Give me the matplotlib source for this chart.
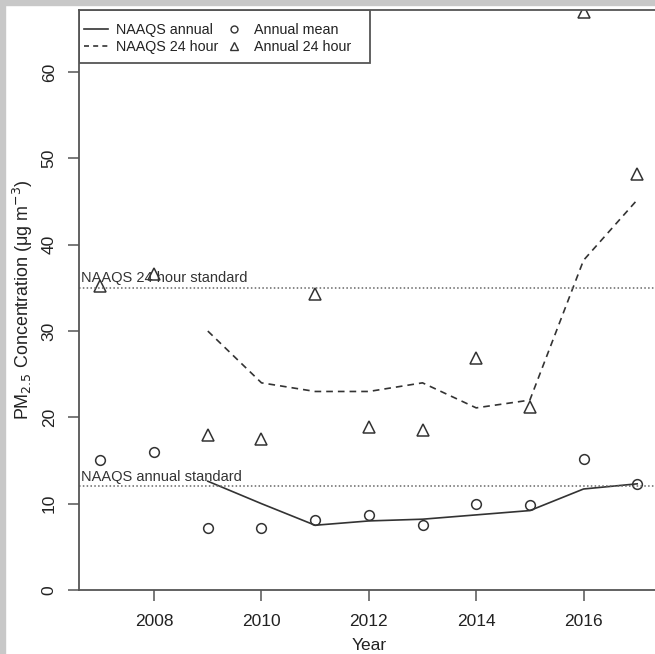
import matplotlib
matplotlib.use("Agg")
import matplotlib.pyplot as plt
from matplotlib.lines import Line2D
from matplotlib.patches import Rectangle

plt.rcParams['font.family'] = ['Liberation Sans', 'DejaVu Sans']

years = list(range(2007, 2018))
annual_mean = [15.1, 16.0, 7.2, 7.2, 8.1, 8.7, 7.5, 10.0, 9.9, 15.2, 12.3]
annual_24h = [35.2, 36.6, 18.0, 17.5, 34.3, 18.9, 18.5, 26.9, 21.2, 67.0, 48.2]

naaqs_years = list(range(2009, 2018))
naaqs_annual = [12.6, 10.0, 7.5, 8.0, 8.2, 8.7, 9.2, 11.7, 12.3]
naaqs_24h = [30.0, 24.0, 23.0, 23.0, 24.0, 21.1, 22.0, 38.2, 45.2]

std_annual = 12
std_24h = 35

ink = '#333333'
axc = '#555555'
txt = '#222222'

fig = plt.figure(figsize=(6.55, 6.54), dpi=100)
ax = fig.add_axes([0.1206, 0.0979, 0.885, 0.8868])

ax.plot(naaqs_years, naaqs_annual, color=ink, lw=1.2, ls='-')
ax.plot(naaqs_years, naaqs_24h, color=ink, lw=1.2, ls=(0, (4, 3)))
ax.plot(years, annual_mean, ls='none', marker='o', ms=7, mfc='none', mec=ink, mew=1.1,
        clip_on=False)
ax.plot(years, annual_24h, ls='none', marker='^', ms=8, mfc='none', mec=ink, mew=1.1)

ax.axhline(std_24h, color='#666666', lw=1.1, ls=(0, (1, 1.5)))
ax.axhline(std_annual, color='#666666', lw=1.1, ls=(0, (1, 1.5)))
ax.text(2006.63, std_24h + 0.3, 'NAAQS 24 hour standard', fontsize=10.5, color=ink,
        va='bottom', ha='left')
ax.text(2006.63, std_annual + 0.3, 'NAAQS annual standard', fontsize=10.5, color=ink,
        va='bottom', ha='left')

ax.set_xlim(2006.6, 2017.4)
ax.set_ylim(0, 67.2)
ax.set_xticks([2008, 2010, 2012, 2014, 2016])
ax.set_yticks([0, 10, 20, 30, 40, 50, 60])
ax.tick_params(axis='both', direction='out', length=8, width=1.1, color=axc,
               labelsize=12.5, labelcolor=txt)
ax.tick_params(axis='x', pad=9)
ax.tick_params(axis='y', pad=8, labelrotation=90)
for lab in ax.get_yticklabels():
    lab.set_va('center')
for s in ax.spines.values():
    s.set_color(axc)
    s.set_linewidth(1.3)

ax.set_xlabel('Year', fontsize=12.5, color=txt, labelpad=7)
ax.set_ylabel('PM$_{2.5}$ Concentration (\u03bcg m$^{-3}$)', fontsize=12.9,
              color=txt, labelpad=5)

handles = [
    Line2D([], [], color=ink, lw=1.2, ls='-'),
    Line2D([], [], color=ink, lw=1.2, ls=(0, (3, 2.5))),
    Line2D([], [], color=ink, ls='none', marker='o', ms=5, mfc='none', mec=ink),
    Line2D([], [], color=ink, ls='none', marker='^', ms=6, mfc='none', mec=ink),
]
labels = ['NAAQS annual', 'NAAQS 24 hour', 'Annual mean', 'Annual 24 hour']
leg = ax.legend(handles, labels, ncol=2, loc='upper left',
                bbox_to_anchor=(0.0086, 0.978), borderaxespad=0, borderpad=0,
                fontsize=10.3, frameon=False, handlelength=1.7,
                handletextpad=0.55, columnspacing=0.25, labelspacing=0.22)
for t in leg.get_texts():
    t.set_color(txt)
# legend box, R style
ax.add_patch(Rectangle((0, 1 - 0.0914), 0.502, 0.0914, transform=ax.transAxes,
                       fill=False, ec=axc, lw=1.3, zorder=5))

# grey frame of the original picture
fig.patches.append(Rectangle((0, 0), 5 / 655, 1, transform=fig.transFigure,
                             color='#c8c8c8', zorder=10))
fig.patches.append(Rectangle((0, 1 - 5 / 654), 1, 5 / 654, transform=fig.transFigure,
                             color='#c8c8c8', zorder=10))

fig.savefig('out.png', dpi=100)
